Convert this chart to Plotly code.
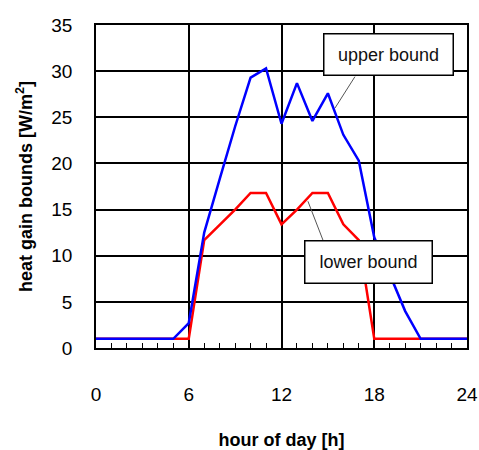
import plotly.graph_objects as go

hours = list(range(25))
upper = [1, 1, 1, 1, 1, 1, 2.7, 12.5, 18.3, 24.0, 29.3, 30.3, 24.3, 28.7, 24.6, 27.6,
         23.1, 20.3, 12.0, 8.0, 4.0, 1, 1, 1, 1]
lower = [1, 1, 1, 1, 1, 1, 1, 11.7, 13.3, 15.0, 16.8, 16.8, 13.4, 15.0, 16.8, 16.8,
         13.4, 11.7, 1, 1, 1, 1, 1, 1, 1]
x_ticks = [0, 6, 12, 18, 24]
y_ticks = [0, 5, 10, 15, 20, 25, 30, 35]

FONT = "Liberation Sans, Arial, sans-serif"

fig = go.Figure()
fig.add_trace(go.Scatter(x=hours, y=lower, mode="lines", line=dict(color="#ff0000", width=2.5),
                         showlegend=False))
fig.add_trace(go.Scatter(x=hours, y=upper, mode="lines", line=dict(color="#0000ff", width=2.5),
                         showlegend=False))

# leader lines
fig.add_shape(type="line", x0=16.75, y0=29.4, x1=15.46, y1=26.0, line=dict(color="#555555", width=1))
fig.add_shape(type="line", x0=14.68, y0=11.7, x1=13.71, y1=15.9, line=dict(color="#555555", width=1))

fig.add_annotation(x=18.92, y=31.8, text="upper bound", showarrow=False,
                   font=dict(family=FONT, size=18, color="#111111"),
                   bgcolor="white", bordercolor="black", borderwidth=1.5,
                   width=126, height=38, borderpad=1)
fig.add_annotation(x=17.66, y=9.3, text="lower bound", showarrow=False,
                   font=dict(family=FONT, size=18, color="#111111"),
                   bgcolor="white", bordercolor="black", borderwidth=1.5,
                   width=124, height=39, borderpad=1)

fig.update_layout(
    width=479, height=450,
    margin=dict(l=96, r=12, t=25, b=102),
    plot_bgcolor="white", paper_bgcolor="white",
    font=dict(family=FONT, color="black"),
)
fig.update_xaxes(
    range=[0, 24], tickvals=x_ticks, ticktext=[str(v) for v in x_ticks],
    showgrid=True, gridcolor="black", gridwidth=1.5,
    showline=True, linecolor="black", linewidth=1.5, mirror=True,
    ticks="inside", ticklen=5, tickcolor="black",
    minor=dict(dtick=1, ticks="inside", ticklen=5, tickcolor="black", showgrid=False),
    tickfont=dict(family=FONT, size=19, color="black"),
    ticklabelstandoff=28,
    zeroline=False, automargin=False,
    title=dict(text="<b>hour of day [h]</b>", font=dict(family=FONT, size=18, color="black"),
               standoff=30),
)
fig.update_yaxes(
    range=[0, 35], tickvals=y_ticks,
    showgrid=True, gridcolor="black", gridwidth=1.5,
    showline=True, linecolor="black", linewidth=1.5, mirror=True,
    ticks="", tickfont=dict(family=FONT, size=19, color="black"),
    ticklabelstandoff=18,
    zeroline=False, automargin=False,
    title=dict(text="<b>heat gain bounds [W/m<sup>2</sup>]</b>",
               font=dict(family=FONT, size=18, color="black"), standoff=14),
)

fig.write_html("out.html")
